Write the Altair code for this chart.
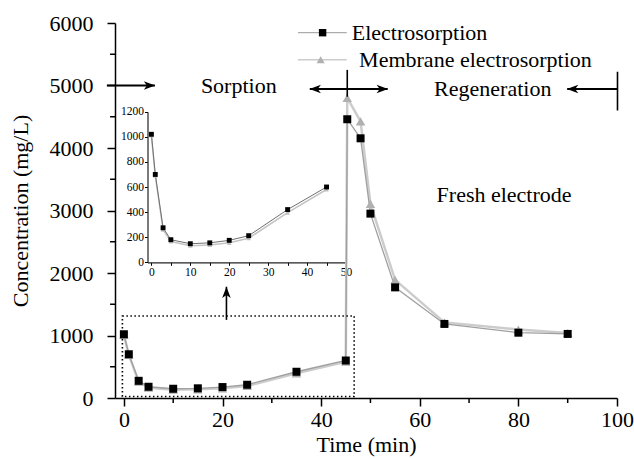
import altair as alt
import pandas as pd

# ---------------- data ----------------
series_names = ["Electrosorption", "Membrane electrosorption"]
time_sorption = [0, 1, 3, 5, 10, 15, 20, 25, 35, 45]
time_regeneration = [45.3, 48, 50, 55, 65, 80, 90]
electro_sorption = [1020, 700, 275, 180, 148, 155, 175, 212, 420, 600]
electro_regeneration = [4460, 4155, 2950, 1770, 1185, 1045, 1025]
membrane_sorption = [1010, 690, 260, 165, 132, 138, 155, 192, 395, 580]
membrane_regeneration = [4800, 4425, 3105, 1890, 1210, 1095, 1040]

x_ticks = [0, 20, 40, 60, 80, 100]
x_minor = [10, 30, 50, 70, 90]
y_ticks = [0, 1000, 2000, 3000, 4000, 5000, 6000]
y_minor = [500, 1500, 2500, 3500, 4500, 5500]
inset_x_ticks = [0, 5, 10, 15, 20, 25, 30, 35, 40, 45, 50]
inset_y_ticks = [0, 200, 400, 600, 800, 1000, 1200]

FONT = "Liberation Serif"

# ---------------- tables ----------------
def series_frame(name, times, values):
    return pd.DataFrame({"t": times, "c": values, "o": list(range(len(times))), "s": name})

electro_all = series_frame(series_names[0], time_sorption + time_regeneration,
                           electro_sorption + electro_regeneration)
membrane_all = series_frame(series_names[1], time_sorption + time_regeneration,
                            membrane_sorption + membrane_regeneration)
electro_in = series_frame(series_names[0], time_sorption, electro_sorption)
membrane_in = series_frame(series_names[1], time_sorption, membrane_sorption)

# ---------------- main scales / axes ----------------
xs = alt.Scale(domain=[-1.8, 100], nice=False, zero=False)
ys = alt.Scale(domain=[0, 6000], nice=False, zero=False)
common_axis = dict(tickSize=8, tickWidth=1.5, tickColor="black", domainWidth=1.5,
                   domainColor="black", labelFont=FONT, labelFontSize=22, labelColor="black",
                   labelFlush=False, titleFont=FONT, titleFontSize=22, titleFontWeight="normal",
                   titleColor="black", grid=False, format="d")
x_axis = alt.Axis(values=x_ticks, title="Time (min)", labelPadding=3, titlePadding=4, **common_axis)
y_axis = alt.Axis(values=y_ticks, title="Concentration (mg/L)", labelPadding=14, titlePadding=17, **common_axis)


def X(f):
    return alt.X(f, type="quantitative", scale=xs, axis=x_axis)


def Y(f):
    return alt.Y(f, type="quantitative", scale=ys, axis=y_axis)


mem_line = alt.Chart(membrane_all).mark_line(color="#cccccc", strokeWidth=2.5).encode(
    x=X("t"), y=Y("c"), order="o:Q")
ele_line = alt.Chart(electro_all).mark_line(color="#a0a0a0", strokeWidth=1.3).encode(
    x=X("t"), y=Y("c"), order="o:Q")
mem_pts = alt.Chart(membrane_all).mark_point(shape="triangle-up", filled=True, color="#b0b0b0",
                                             size=90, opacity=1).encode(x=X("t"), y=Y("c"))
ele_pts = alt.Chart(electro_all).mark_point(shape="square", filled=True, color="black",
                                            size=64, opacity=1).encode(x=X("t"), y=Y("c"))

# minor ticks
xminor_df = pd.DataFrame({"t": x_minor, "c": 0, "c2": -80})
yminor_df = pd.DataFrame({"t": -1.8, "t2": -2.8, "c": y_minor})
xminor = alt.Chart(xminor_df).mark_rule(color="black", strokeWidth=1.5).encode(
    x=X("t"), y=Y("c"), y2="c2")
yminor = alt.Chart(yminor_df).mark_rule(color="black", strokeWidth=1.5).encode(
    x=X("t"), x2="t2", y=Y("c"))

# annotation lines
hlines_df = pd.DataFrame({
    "t": [-3.45, 37.7, 89.9],
    "t2": [6.3, 53.5, 100.1],
    "c": [5000, 4945, 4945],
})
vlines_df = pd.DataFrame({
    "t": [45.3, 100.1, 20.8],
    "c": [5250, 5220, 1250],
    "c2": [4820, 4600, 1780],
})
hlines = alt.Chart(hlines_df).mark_rule(color="black", strokeWidth=2).encode(
    x=X("t"), x2="t2", y=Y("c"))
vlines = alt.Chart(vlines_df).mark_rule(color="black", strokeWidth=1.6).encode(
    x=X("t"), y=Y("c"), y2="c2")

RIGHT = "M1,0L-1,-0.75L-0.45,0L-1,0.75Z"
LEFT = "M-1,0L1,-0.75L0.45,0L1,0.75Z"
UP = "M0,-1L-0.75,1L0,0.45L0.75,1Z"
heads_df = pd.DataFrame({
    "t": [5.2, 38.8, 52.4, 91.0, 20.8],
    "c": [5000, 4945, 4945, 4945, 1690],
    "shape": [RIGHT, LEFT, RIGHT, LEFT, UP],
})
heads = alt.Chart(heads_df).mark_point(filled=True, color="black", size=130, opacity=1,
                                       strokeWidth=0).encode(
    x=X("t"), y=Y("c"), shape=alt.Shape("shape:N", scale=None))

# dotted rectangle
rect_df = pd.DataFrame({"t": [-0.3], "t2": [46.7], "c": [25], "c2": [1313]})
rect = alt.Chart(rect_df).mark_rect(fillOpacity=0, stroke="black", strokeWidth=1.6,
                                    strokeDash=[1.5, 2.5]).encode(
    x=X("t"), x2="t2", y=Y("c"), y2="c2")

# texts
text_df = pd.DataFrame({
    "t": [23.3, 74.8, 77.1],
    "c": [5000, 4950, 3250],
    "label": ["Sorption", "Regeneration", "Fresh electrode"],
})
texts = alt.Chart(text_df).mark_text(font=FONT, fontSize=22, color="black", align="center",
                                     baseline="middle").encode(x=X("t"), y=Y("c"), text="label:N")

# legend (hand drawn)
leg_line_df = pd.DataFrame({"t": [35.3], "t2": [45.2], "c": [5845]})
leg_line2_df = pd.DataFrame({"t": [35.3], "t2": [45.2], "c": [5412]})
leg_l1 = alt.Chart(leg_line_df).mark_rule(color="#999999", strokeWidth=1).encode(
    x=X("t"), x2="t2", y=Y("c"))
leg_l2 = alt.Chart(leg_line2_df).mark_rule(color="#cccccc", strokeWidth=1.5).encode(
    x=X("t"), x2="t2", y=Y("c"))
leg_sq = alt.Chart(pd.DataFrame({"t": [40.3], "c": [5845]})).mark_point(
    shape="square", filled=True, color="black", size=55, opacity=1).encode(x=X("t"), y=Y("c"))
leg_tr = alt.Chart(pd.DataFrame({"t": [39.9], "c": [5412]})).mark_point(
    shape="triangle-up", filled=True, color="#b0b0b0", size=65, opacity=1).encode(x=X("t"), y=Y("c"))
leg_text_df = pd.DataFrame({"t": [46.2, 47.7], "c": [5845, 5412], "label": series_names})
leg_text = alt.Chart(leg_text_df).mark_text(font=FONT, fontSize=22, color="black", align="left",
                                            baseline="middle").encode(x=X("t"), y=Y("c"), text="label:N")

main = alt.layer(mem_line, ele_line, mem_pts, ele_pts, xminor, yminor, rect, hlines, vlines,
                 heads, texts, leg_l1, leg_l2, leg_sq, leg_tr, leg_text)

# ---------------- inset ----------------
xi = alt.Scale(domain=[-1, 50], range=[32.5, 231], nice=False, zero=False)
yi = alt.Scale(domain=[0, 1200], range=[239.3, 88.7], nice=False, zero=False)
inset_common = dict(tickSize=3, tickWidth=1, tickColor="black", domainWidth=1.2,
                    domainColor="#222222", labelFont=FONT, labelFontSize=11.5, labelColor="black",
                    labelFlush=False, labelOverlap=False, title=None, grid=False, format="d")
xi_axis = alt.Axis(values=inset_x_ticks, orient="bottom", offset=-135.7, labelPadding=1,
                   labelExpr="datum.value % 10 == 0 ? datum.label : ''", **inset_common)
yi_axis = alt.Axis(values=inset_y_ticks, orient="left", offset=-32.5, labelPadding=1, **inset_common)


def XI(f):
    return alt.X(f, type="quantitative", scale=xi, axis=xi_axis)


def YI(f):
    return alt.Y(f, type="quantitative", scale=yi, axis=yi_axis)


in_mem_line = alt.Chart(membrane_in).mark_line(color="#c4c4c4", strokeWidth=1.5).encode(
    x=XI("t"), y=YI("c"), order="o:Q")
in_ele_line = alt.Chart(electro_in).mark_line(color="#707070", strokeWidth=1).encode(
    x=XI("t"), y=YI("c"), order="o:Q")
in_mem_pts = alt.Chart(membrane_in).mark_point(shape="triangle-up", filled=True, color="#c0c0c0",
                                               size=22, opacity=1).encode(x=XI("t"), y=YI("c"))
in_ele_pts = alt.Chart(electro_in).mark_point(shape="square", filled=True, color="black",
                                              size=24, opacity=1).encode(x=XI("t"), y=YI("c"))

inset = alt.layer(in_mem_line, in_ele_line, in_mem_pts, in_ele_pts)

chart = alt.layer(main, inset).resolve_scale(x="independent", y="independent").properties(
    width=502, height=375,
    autosize=alt.AutoSizeParams(type="none"),
    padding={"left": 115, "top": 23, "right": 17, "bottom": 61},
    background="white",
).configure_view(stroke=None)

chart.save("out.html", embed_options={"renderer": "svg", "actions": False})
